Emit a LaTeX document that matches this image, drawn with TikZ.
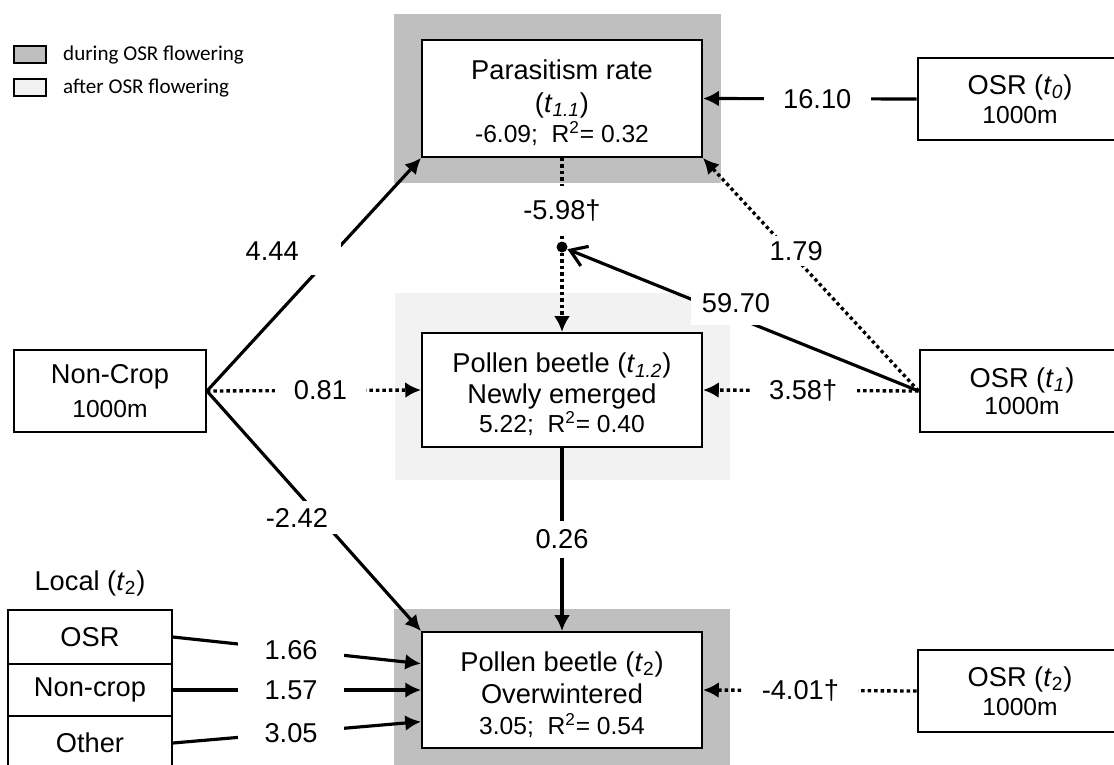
\documentclass[tikz,border=0pt]{standalone}
\usepackage{fontspec}
\setmainfont{Liberation Sans}
\newfontfamily\legendfont{Carlito}
\usetikzlibrary{arrows.meta}
\newcommand\numfont{\fontsize{14}{16}\selectfont}
\newcommand\lowerline{\rule{0pt}{16.3pt}}

\begin{document}
\begin{tikzpicture}[x=0.02cm, y=-0.02cm,
		font=\fontsize{15.5}{17.5}\selectfont,
		box/.style={draw, line width=1.1pt, fill=white, align=center, inner sep=0pt},
		bigbox/.style={box, minimum width=5.6cm},
		sitebox/.style={box, minimum width=4.1cm, minimum height=1.64cm},
		localbox/.style={box, minimum width=3.28cm},
		solidarr/.style={line width=1.8pt, -{Latex[length=9pt,width=9pt]}},
		dotline/.style={line width=1.9pt, dash pattern=on 1.9pt off 1.8pt},
		dotarr/.style={dotline, -{Latex[length=9pt,width=9pt]}},
		openarr/.style={line width=1.8pt, -{Straight Barb[length=9pt,width=12pt]}},
		lab/.style={fill=white, inner xsep=11pt, inner ysep=3pt},
		legtext/.style={anchor=west, font=\legendfont\fontsize{12}{14}\selectfont}]
			%%%%% START %%%%%
			
			\useasboundingbox (0,0) rectangle (1114,764);
			\clip (0,0) rectangle (1114,764);
			
			% flowering periods
			\fill[black!25] (394,14) rectangle (721,183);
			\fill[black!5] (395,293) rectangle (730,480);
			\fill[black!25] (394,609) rectangle (730,770);
			
			% legend
			\draw[fill=black!25, line width=0.7pt] (14,46) rectangle (46,63);
			\node[legtext] (legdur) at (57,55) {during OSR flowering};
			\draw[fill=black!5, line width=0.7pt] (14,79) rectangle (46,96);
			\node[legtext] (legaft) at (57,88) {after OSR flowering};
			
			% responses
			\node[bigbox, minimum height=2.34cm] (para) at (562,98.5) {\lowerline Parasitism rate\\[1pt](\textit{t}\textsubscript{\textit{1.1}})\\[0pt]{\numfont -6.09;~ R\textsuperscript{2}= 0.32}};
			\node[bigbox, minimum height=2.28cm] (mid) at (562,390) {\lowerline Pollen beetle (\textit{t}\textsubscript{\textit{1.2}})\\Newly emerged\\[-1pt]{\numfont 5.22;~ R\textsuperscript{2}= 0.40}};
			\node[bigbox, minimum height=2.32cm] (bot) at (562,690) {\lowerline Pollen beetle (\textit{t}\textsubscript{2})\\[1pt]Overwintered\\[0pt]{\numfont 3.05;~ R\textsuperscript{2}= 0.54}};
			
			% landscape
			\node[box, minimum width=3.84cm, minimum height=1.64cm] (noncrop) at (110,391) {Non-Crop\\[2pt]{\numfont 1000m}};
			\node[sitebox] (osr0) at (1020,99) {OSR (\textit{t}\textsubscript{\textit{0}})\\[-1pt]{\numfont 1000m}};
			\node[sitebox] (osr1) at (1022,391) {OSR (\textit{t}\textsubscript{\textit{1}})\\[-2pt]{\numfont 1000m}};
			\node[sitebox] (osr2) at (1020,691) {OSR (\textit{t}\textsubscript{2})\\[-1pt]{\numfont 1000m}};
			
			% local
			\node (localhd) at (90,583) {Local (\textit{t}\textsubscript{2})};
			\node[localbox, minimum height=1.08cm] (losr) at (90,637) {OSR};
			\node[localbox, minimum height=1.04cm] (lnon) at (90,690) {Non-crop};
			\node[localbox, minimum height=1.08cm] (loth) at (90,743) {Other};
			
			\node[circle, fill, inner sep=0pt, minimum size=0.22cm] (joint) at (562,247) {};
			
			% paths
			\draw[solidarr] (osr0.west) -- node[lab, pos=0.465] {16.10} (para.east);
			\draw[solidarr] (noncrop.east) -- node[lab, pos=0.6, xshift=-36pt, inner xsep=24pt, inner ysep=8pt] {4.44} (para.south west);
			\draw[dotarr] (noncrop.east) -- node[lab, pos=0.53] {0.81} (mid.west);
			\draw[solidarr] (noncrop.east) -- node[lab, pos=0.527, xshift=-13pt, inner xsep=12pt, inner ysep=4pt] {-2.42} (bot.north west);
			\draw[dotline] (para.south) -- node[lab, pos=0.63, inner ysep=8pt] {-5.98†} (joint);
			\draw[dotarr] (joint) -- (mid.north);
			\draw[openarr] (osr1.west) -- node[lab, pos=0.52, yshift=8pt, inner xsep=6pt, inner ysep=7pt] {59.70} (joint);
			\draw[dotarr] (osr1.west) -- node[lab, pos=0.6, xshift=4pt] {1.79} (para.south east);
			\draw[dotarr] (osr1.west) -- node[lab, pos=0.535] {3.58†} (mid.east);
			\draw[solidarr] (mid.south) -- node[lab, inner ysep=5pt] {0.26} (bot.north);
			\draw[dotarr] (osr2.west) -- node[lab, pos=0.544] {-4.01†} (bot.east);
			\draw[solidarr] (losr.east) -- node[lab, pos=0.476, inner xsep=15pt] {1.66} ([yshift=15pt]bot.west);
			\draw[solidarr] (lnon.east) -- node[lab, pos=0.476, inner xsep=15pt] {1.57} (bot.west);
			\draw[solidarr] (loth.east) -- node[lab, pos=0.476, inner xsep=15pt] {3.05} ([yshift=-18pt]bot.west);
			
			%%%%% END %%%%%
		\end{tikzpicture}
\end{document}
